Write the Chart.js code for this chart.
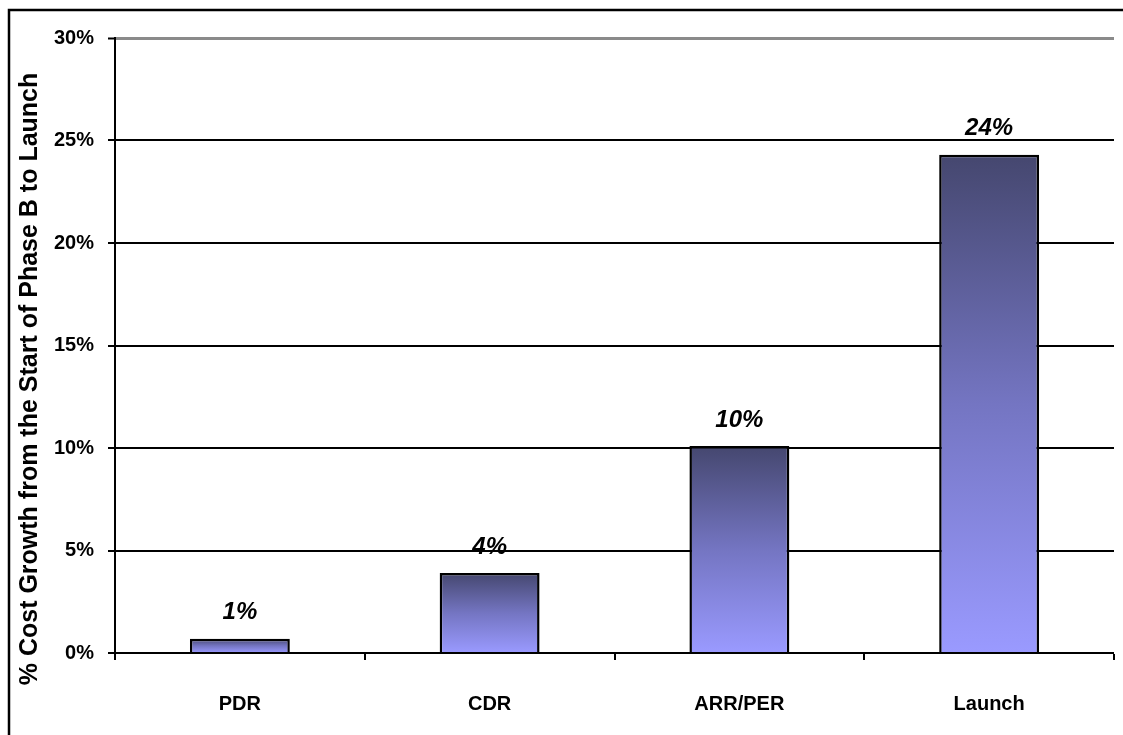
<!DOCTYPE html>
<html>
<head>
<meta charset="utf-8">
<script src="https://cdn.jsdelivr.net/npm/chart.js@4"></script>
<style>
  html, body { margin: 0; padding: 0; background: #fff; }
  #wrap { width: 1123px; height: 735px; position: relative; }
</style>
</head>
<body>
<div id="wrap"><canvas id="chart" width="1123" height="735"></canvas></div>
<script>
// Milestones and cumulative cost growth (%) since the start of Phase B
const categories = ['PDR', 'CDR', 'ARR/PER', 'Launch'];
const costGrowth = [0.7, 3.9, 10.1, 24.3];
const yTickValues = [0, 5, 10, 15, 20, 25, 30];
const yTitle = '% Cost Growth from the Start of Phase B to Launch';

const FONT = 'Arial, "Liberation Sans", sans-serif';

// Vertical dark-to-light fill for each bar, spanning that bar only
function barGradient(ctx) {
  const chart = ctx.chart;
  if (!chart.chartArea || ctx.raw === undefined) return '#7a7ad0';
  const y = chart.scales.y;
  const top = y.getPixelForValue(ctx.raw);
  const base = y.getPixelForValue(0);
  const g = chart.ctx.createLinearGradient(0, top, 0, base);
  g.addColorStop(0, '#45476f');
  g.addColorStop(0.5, '#7475c2');
  g.addColorStop(1, '#9a9aff');
  return g;
}

// Outer frame, rotated axis title and value labels
const decorations = {
  id: 'decorations',
  beforeDraw(chart) {
    const c = chart.ctx;
    c.save();
    c.strokeStyle = '#000';
    c.lineWidth = 2.5;
    c.beginPath();
    c.moveTo(9, 740);
    c.lineTo(9, 10);
    c.lineTo(1130, 10);
    c.stroke();
    c.restore();
  },
  afterDraw(chart) {
    const c = chart.ctx;
    c.save();
    c.translate(30, 379);
    c.rotate(-Math.PI / 2);
    c.font = 'bold 25px ' + FONT;
    c.fillStyle = '#000';
    c.textAlign = 'center';
    c.textBaseline = 'middle';
    c.fillText(yTitle, 0, 0);
    c.restore();
  },
  afterDatasetsDraw(chart) {
    const c = chart.ctx;
    const meta = chart.getDatasetMeta(0);
    c.save();
    c.font = 'italic bold 24px ' + FONT;
    c.fillStyle = '#000';
    c.textAlign = 'center';
    c.textBaseline = 'middle';
    meta.data.forEach((bar, i) => {
      c.fillText(Math.round(costGrowth[i]) + '%', bar.x, bar.y - 26);
    });
    c.restore();
  }
};

new Chart(document.getElementById('chart'), {
  type: 'bar',
  data: {
    labels: categories,
    datasets: [{
      data: costGrowth,
      backgroundColor: barGradient,
      borderColor: '#000',
      borderWidth: 2.5,
      borderSkipped: 'start',
      categoryPercentage: 1,
      barPercentage: 0.4
    }]
  },
  options: {
    responsive: false,
    animation: false,
    layout: { padding: { left: 0, top: 38, right: 9, bottom: 0 } },
    plugins: { legend: { display: false }, tooltip: { enabled: false } },
    scales: {
      x: {
        offset: true,
        grid: {
          offset: true,
          drawOnChartArea: true,
          color: ctx => ctx.index === categories.length ? '#8a8a8a' : 'rgba(0,0,0,0)',
          lineWidth: ctx => ctx.index === categories.length ? 3 : 0,
          tickColor: '#000',
          tickWidth: 2,
          tickLength: 7
        },
        border: { color: '#000', width: 2 },
        ticks: {
          color: '#000',
          font: { family: FONT, size: 20, weight: 'bold' },
          padding: 32
        },
        afterFit(scale) { scale.height = 82; }
      },
      y: {
        min: 0,
        max: 30,
        afterBuildTicks(scale) { scale.ticks = yTickValues.map(v => ({ value: v })); },
        grid: {
          color: ctx => ctx.tick && ctx.tick.value === 30 ? '#8a8a8a' : '#000',
          lineWidth: ctx => ctx.tick && ctx.tick.value === 30 ? 3 : 2,
          tickColor: '#000',
          tickWidth: 2,
          tickLength: 7
        },
        border: { color: '#000', width: 2 },
        ticks: {
          color: '#000',
          font: { family: FONT, size: 20, weight: 'bold' },
          padding: 14,
          callback: v => v + '%'
        },
        afterFit(scale) { scale.width = 115; }
      }
    }
  },
  plugins: [decorations]
});
</script>
</body>
</html>
